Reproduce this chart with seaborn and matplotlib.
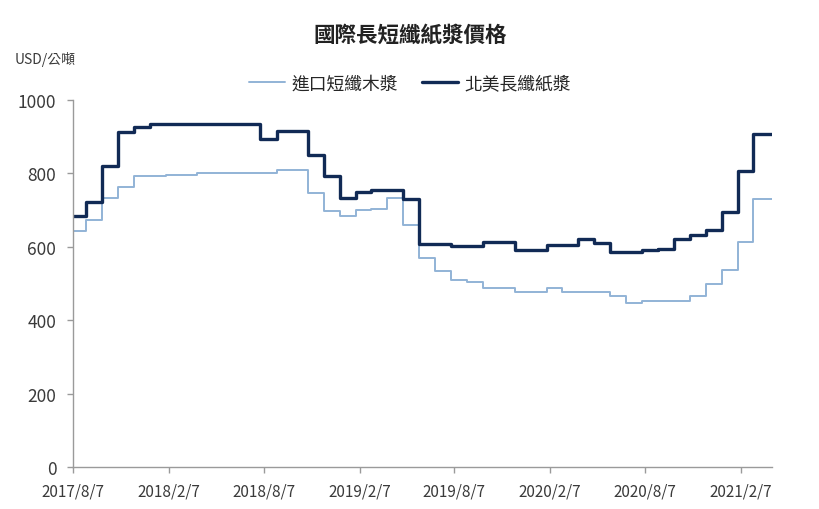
import matplotlib
matplotlib.use("Agg")
import matplotlib.pyplot as plt
import seaborn as sns
import pandas as pd

# ---- data ----
months = ["2017-08-07"] + [f"{y}-{m:02d}-01" for y in range(2017, 2022) for m in range(1, 13)
                           if (y, m) >= (2017, 9) and (y, m) <= (2021, 4)] + ["2021-04-07"]

short_fiber = [642, 673, 732, 764, 794,
               794, 796, 796, 801, 801, 801, 801, 801, 808, 808, 747, 697,
               683, 699, 703, 732, 659, 569, 533, 510, 503, 487, 487, 478,
               478, 487, 478, 478, 478, 465, 447, 452, 452, 452, 467, 499,
               537, 612, 730, 730, 730]
long_fiber = [685, 721, 821, 912, 926,
              935, 935, 935, 935, 935, 935, 935, 894, 915, 915, 851, 792,
              733, 748, 756, 756, 730, 607, 607, 603, 603, 614, 614, 592,
              592, 606, 606, 621, 610, 585, 585, 590, 594, 621, 632, 646,
              694, 806, 907, 907, 907]

series_names = ["進口短纖木漿", "北美長纖紙漿"]
tick_labels = ["2017/8/7", "2018/2/7", "2018/8/7", "2019/2/7", "2019/8/7",
               "2020/2/7", "2020/8/7", "2021/2/7"]
y_ticks = [0, 200, 400, 600, 800, 1000]
title = "國際長短纖紙漿價格"
unit = "USD/公噸"

dates = pd.to_datetime(months)
df = pd.DataFrame({
    "date": list(dates) * 2,
    "price": short_fiber + long_fiber,
    "series": [series_names[0]] * len(dates) + [series_names[1]] * len(dates),
})

sns.set_theme(style="white")
plt.rcParams["font.family"] = ["Noto Sans CJK TC", "DejaVu Sans"]

fig = plt.figure(figsize=(8.2, 5.1), dpi=100)
ax = fig.add_axes([0.089, 0.0824, 0.8525, 0.7196])

palette = {series_names[0]: "#92b3d6", series_names[1]: "#112a55"}
for name, lw in zip(series_names, [1.4, 2.4]):
    sub = df[df["series"] == name]
    sns.lineplot(data=sub, x="date", y="price", ax=ax, color=palette[name],
                 linewidth=lw, drawstyle="steps-post", label=name, legend=False)

tick_dates = pd.to_datetime(tick_labels, format="%Y/%m/%d")
ax.set_xticks(tick_dates)
ax.set_xticklabels(tick_labels, fontsize=11, color="#3a3a3a")
ax.set_xlim(dates[0], dates[-1])
ax.set_ylim(0, 1000)
ax.set_yticks(y_ticks)
ax.set_yticklabels([str(v) for v in y_ticks], fontsize=12.5, color="#3a3a3a")
ax.set_xlabel("")
ax.set_ylabel("")

for s in ["top", "right"]:
    ax.spines[s].set_visible(False)
for s in ["left", "bottom"]:
    ax.spines[s].set_color("#9a9a9a")
    ax.spines[s].set_linewidth(1.0)
ax.tick_params(axis="both", direction="out", length=4, width=1, color="#9a9a9a",
               bottom=True, left=True)
ax.tick_params(axis="x", pad=7)
ax.tick_params(axis="y", pad=8)
ax.grid(False)

fig.text(0.5, 0.931, title, ha="center", va="center", fontsize=15.5,
         fontweight="bold", color="#222222")
fig.text(0.018, 0.884, unit, ha="left", va="center", fontsize=10, color="#3a3a3a")

handles, labels = ax.get_legend_handles_labels()
fig.legend(handles, labels, loc="center", bbox_to_anchor=(0.5, 0.834), ncol=2,
           frameon=False, fontsize=12.8, handlelength=2.0, columnspacing=1.4,
           handletextpad=0.35)

fig.savefig("out.png", dpi=100, facecolor="white")
